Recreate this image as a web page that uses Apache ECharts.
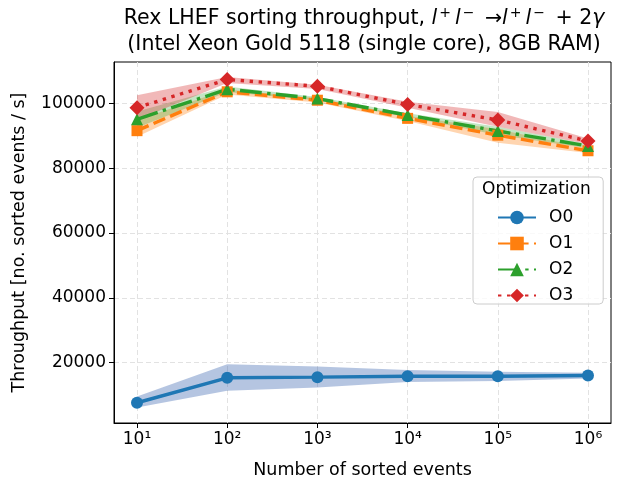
<!DOCTYPE html>
<html>
<head>
<meta charset="utf-8">
<script src="https://cdn.jsdelivr.net/npm/echarts@6/dist/echarts.min.js"></script>
<style>
  html, body { margin: 0; padding: 0; background: #fff; }
  #chart { width: 618px; height: 484px; }
</style>
</head>
<body>
<div id="chart"></div>
<script>
// number of sorted events (x, log axis)
var events = [10, 100, 1000, 10000, 100000, 1000000];
var yTicks = [20000, 40000, 60000, 80000, 100000];

// throughput, mean and band (lo / hi) per optimisation level
var o0   = [7600, 15300, 15500, 15800, 15800, 16000];
var o0Lo = [6150, 11300, 12300, 14000, 14300, 15100];
var o0Hi = [9500, 19500, 18800, 17700, 17200, 16900];

var o1   = [91600, 103600, 101000, 95400, 90200, 85400];
var o1Lo = [89700, 102800, 100300, 94600, 87900, 84700];
var o1Hi = [94900, 104300, 101600, 96200, 92000, 86200];

var o2   = [95100, 104400, 101500, 96400, 91500, 86900];
var o2Lo = [92500, 103500, 101000, 95800, 90300, 86200];
var o2Hi = [97500, 105200, 102000, 97000, 92800, 87500];

var o3   = [98700, 107400, 105300, 99700, 94900, 88400];
var o3Lo = [95000, 106300, 104500, 98700, 92800, 87500];
var o3Hi = [102500, 108200, 105800, 100500, 97400, 89200];

var xs = events.map(function (e) { return Math.log10(e); });
var sup = { 1: '\u00b9', 2: '\u00b2', 3: '\u00b3', 4: '\u2074', 5: '\u2075', 6: '\u2076' };
var FONT = 'DejaVu Sans';

function pts(vals) {
  return xs.map(function (x, i) { return [x, vals[i]]; });
}

// filled band between lo and hi, drawn as one polygon
function band(name, lo, hi, color) {
  return {
    type: 'custom',
    name: name,
    silent: true,
    z: 1,
    data: xs.map(function (x, i) { return [x, lo[i], hi[i]]; }),
    encode: { x: 0, y: [1, 2] },
    renderItem: function (params, api) {
      if (params.dataIndex !== 0) return;
      var p = [];
      for (var i = 0; i < xs.length; i++) p.push(api.coord([xs[i], hi[i]]));
      for (var j = xs.length - 1; j >= 0; j--) p.push(api.coord([xs[j], lo[j]]));
      return { type: 'polygon', shape: { points: p }, style: { fill: color } };
    }
  };
}

function line(name, vals, color, symbol, size, dash) {
  return {
    type: 'line',
    name: name,
    data: pts(vals),
    z: 3,
    symbol: symbol,
    symbolSize: size,
    showAllSymbol: true,
    itemStyle: { color: color },
    lineStyle: { color: color, width: 3.4, type: dash }
  };
}

var chart = echarts.init(document.getElementById('chart'));
chart.setOption({
  animation: false,
  textStyle: { fontFamily: FONT },
  title: {
    text: 'Optimization',
    left: 482, top: 181, padding: 0,
    textStyle: { fontFamily: FONT, fontSize: 17, fontWeight: 'normal', color: '#000' }
  },
  graphic: [{
    type: 'text',
    x: 364, y: 6,
    style: {
      text: 'Rex LHEF sorting throughput, {i|l}{s|+}{i|l}{s|\u2212} \u2192{i|l}{s|+}{i|l}{s|\u2212} + 2{i|\u03b3}\n(Intel Xeon Gold 5118 (single core), 8GB RAM)',
      font: '20.5px "DejaVu Sans"',
      fill: '#000',
      align: 'center',
      lineHeight: 26,
      rich: {
        i: { fontStyle: 'italic', fontSize: 20.5, fontFamily: FONT, lineHeight: 26 },
        s: { fontSize: 14, fontFamily: FONT, lineHeight: 26, padding: [0, 4, 11, 2] }
      }
    }
  }],
  grid: {
    left: 114, right: 7, top: 62, bottom: 61,
    show: true, borderColor: '#000', borderWidth: 1
  },
  legend: {
    data: ['O0', 'O1', 'O2', 'O3'],
    orient: 'vertical',
    left: 473, top: 177,
    itemWidth: 38, itemHeight: 17, itemGap: 9,
    padding: [32, 30, 0, 24],
    backgroundColor: 'rgba(255,255,255,0.8)',
    borderColor: '#ccc', borderWidth: 1, borderRadius: 4,
    textStyle: { fontFamily: FONT, fontSize: 17, color: '#000', padding: [0, 0, 0, 8] }
  },
  xAxis: {
    type: 'value',
    min: 0.745, max: 6.255,
    name: 'Number of sorted events',
    nameLocation: 'middle', nameGap: 38,
    nameTextStyle: { fontFamily: FONT, fontSize: 17.5, color: '#000' },
    axisLine: { lineStyle: { color: '#000', width: 1 } },
    axisTick: { customValues: xs, length: 5, lineStyle: { color: '#000' } },
    axisLabel: {
      customValues: xs,
      fontFamily: FONT, fontSize: 17, color: '#000', margin: 8,
      formatter: function (v) { return '10' + sup[Math.round(v)]; }
    },
    splitLine: { show: true, lineStyle: { color: '#e2e2e2', type: [5, 3] } }
  },
  yAxis: {
    type: 'value',
    min: 1350, max: 112800,
    name: 'Throughput [no. sorted events / s]',
    nameLocation: 'middle', nameGap: 86,
    nameTextStyle: { fontFamily: FONT, fontSize: 17.5, color: '#000' },
    axisLine: { show: true, lineStyle: { color: '#000', width: 1 } },
    axisTick: { show: true, customValues: yTicks, length: 5, lineStyle: { color: '#000' } },
    axisLabel: {
      customValues: yTicks,
      fontFamily: FONT, fontSize: 17, color: '#000', margin: 8,
      formatter: function (v) { return String(v); }
    },
    splitLine: { show: true, lineStyle: { color: '#e2e2e2', type: [5, 3] } }
  },
  series: [
    band('O0 band', o0Lo, o0Hi, 'rgba(70,110,180,0.4)'),
    band('O1 band', o1Lo, o1Hi, 'rgba(255,127,14,0.33)'),
    band('O2 band', o2Lo, o2Hi, 'rgba(44,160,44,0.28)'),
    band('O3 band', o3Lo, o3Hi, 'rgba(214,39,40,0.33)'),
    line('O0', o0, '#1f77b4', 'circle', 12, 'solid'),
    line('O1', o1, '#ff7f0e', 'rect', 11, [12.6, 5.4]),
    line('O2', o2, '#2ca02c', 'triangle', 12, [21.8, 5.4, 3.4, 5.4]),
    line('O3', o3, '#d62728', 'diamond', 15, [3.4, 5.6])
  ]
});
</script>
</body>
</html>
